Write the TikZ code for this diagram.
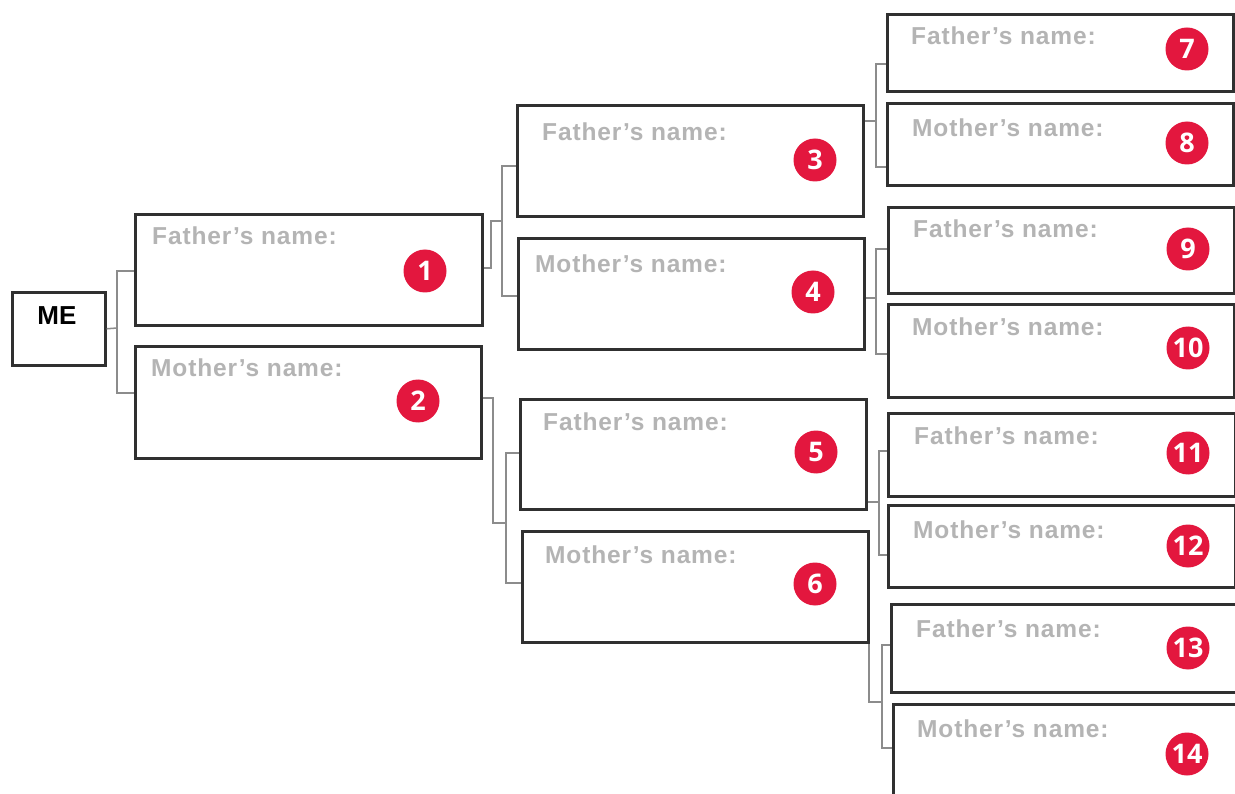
\documentclass[tikz,border=0pt]{standalone}
\usepackage{fontspec}
\newfontfamily\labfont{Liberation Sans}[LetterSpace=3.5]
\newfontfamily\mefont{Liberation Sans}
\newfontfamily\numfont{Open Sans}
\definecolor{labgray}{HTML}{B4B4B4}
\definecolor{conngray}{HTML}{8C8C8C}
\definecolor{boxline}{HTML}{303030}
\definecolor{badge}{HTML}{E3173E}
\tikzset{
  pbox/.style={draw=boxline, line width=2.6pt, fill=white, inner sep=0pt, anchor=north west},
  lab/.style={anchor=base west, inner sep=0pt, text=labgray, font=\labfont\bfseries\fontsize{24.5}{26}\selectfont},
  num/.style={circle, fill=badge, text=white, minimum size=43pt, inner sep=0pt, font=\numfont\bfseries\fontsize{27}{28}\selectfont},
  conn/.style={draw=conngray, line width=1.5pt}
}
\newcommand{\pbox}[5]{\pgfmathsetmacro{\ww}{#4-#2}\pgfmathsetmacro{\hh}{#5-#3}%
  \node[pbox, minimum width=\ww pt, minimum height=\hh pt] (#1) at (#2,#3) {};}
\begin{document}
\begin{tikzpicture}[x=1pt,y=-1pt]
\clip (0,0) rectangle (1235,794);
\fill[white] (0,0) rectangle (1235,794);
\coordinate (j0) at (117,328);
\coordinate (j1a) at (491,221);
\coordinate (j2a) at (493,523);
\coordinate (j3) at (876,121);
\coordinate (j4) at (876,298);
\coordinate (j5) at (879,502);
\coordinate (j6) at (882,702);
% boxes
\pbox{me}{11}{291}{104}{364}
\pbox{b1}{134}{213}{481}{324}
\pbox{b2}{134}{345}{480}{457}
\pbox{b3}{516}{104}{862}{215}
\pbox{b4}{517}{237}{863}{348}
\pbox{b5}{519}{398}{865}{508}
\pbox{b6}{521}{530}{867}{641}
\pbox{b7}{886}{13}{1232}{90}
\pbox{b8}{886}{102}{1232}{184}
\pbox{b9}{887}{206}{1233}{292}
\pbox{b10}{887}{303}{1233}{396}
\pbox{b11}{887}{412}{1234}{495}
\pbox{b12}{887}{504}{1234}{586}
\pbox{b13}{890}{603}{1250}{691}
\pbox{b14}{892}{703}{1250}{812}
% connectors
\draw[conn] (me.east) -- (j0);
\draw[conn] (b1.west |- 0,271) -| (j0) |- (b2.west |- 0,393);
\draw[conn] (b1.east |- 0,268) -- (491,268) -- (j1a) -- (502,221);
\draw[conn] (b3.west |- 0,166) -| (502,221) |- (b4.west |- 0,296);
\draw[conn] (b2.east |- 0,398) -- (493,398) -- (j2a) -- (506,523);
\draw[conn] (b5.west |- 0,453) -| (506,523) |- (b6.west |- 0,583);
\draw[conn] (b3.east |- j3) -- (j3);
\draw[conn] (b7.west |- 0,64) -| (j3) |- (b8.west |- 0,167);
\draw[conn] (b4.east |- j4) -- (j4);
\draw[conn] (b9.west |- 0,249) -| (j4) |- (b10.west |- 0,354);
\draw[conn] (b5.east |- j5) -- (j5);
\draw[conn] (b11.west |- 0,451) -| (j5) |- (b12.west |- 0,555);
\draw[conn] (b6.south -| 869,0) -- (869,702) -- (j6);
\draw[conn] (b13.west |- 0,645) -| (j6) |- (b14.west |- 0,748);
% ME label
\node[inner sep=0pt, font=\mefont\bfseries\fontsize{26}{28}\selectfont] (metxt) at (57,316) {ME};
% labels
\node[lab] (t1) at (152,245) {Father’s name:};
\node[lab] (t2) at (151,377) {Mother’s name:};
\node[lab] (t3) at (542,141) {Father’s name:};
\node[lab] (t4) at (535,273) {Mother’s name:};
\node[lab] (t5) at (543,431) {Father’s name:};
\node[lab] (t6) at (545,563) {Mother’s name:};
\node[lab] (t7) at (911,45) {Father’s name:};
\node[lab] (t8) at (912,137) {Mother’s name:};
\node[lab] (t9) at (913,238) {Father’s name:};
\node[lab] (t10) at (912,336) {Mother’s name:};
\node[lab] (t11) at (914,444) {Father’s name:};
\node[lab] (t12) at (913,538) {Mother’s name:};
\node[lab] (t13) at (916,637) {Father’s name:};
\node[lab] (t14) at (917,737) {Mother’s name:};
% numbers
\node[num] (n1) at (425,271) {1};
\node[num] (n2) at (418,401) {2};
\node[num] (n3) at (815,160) {3};
\node[num] (n4) at (813,292) {4};
\node[num] (n5) at (816,452) {5};
\node[num] (n6) at (815,584) {6};
\node[num] (n7) at (1187,49) {7};
\node[num] (n8) at (1187,143) {8};
\node[num] (n9) at (1188,249) {9};
\node[num] (n10) at (1188,348) {10};
\node[num] (n11) at (1188,453) {11};
\node[num] (n12) at (1188,546) {12};
\node[num] (n13) at (1188,648) {13};
\node[num] (n14) at (1187,754) {14};
\end{tikzpicture}
\end{document}
